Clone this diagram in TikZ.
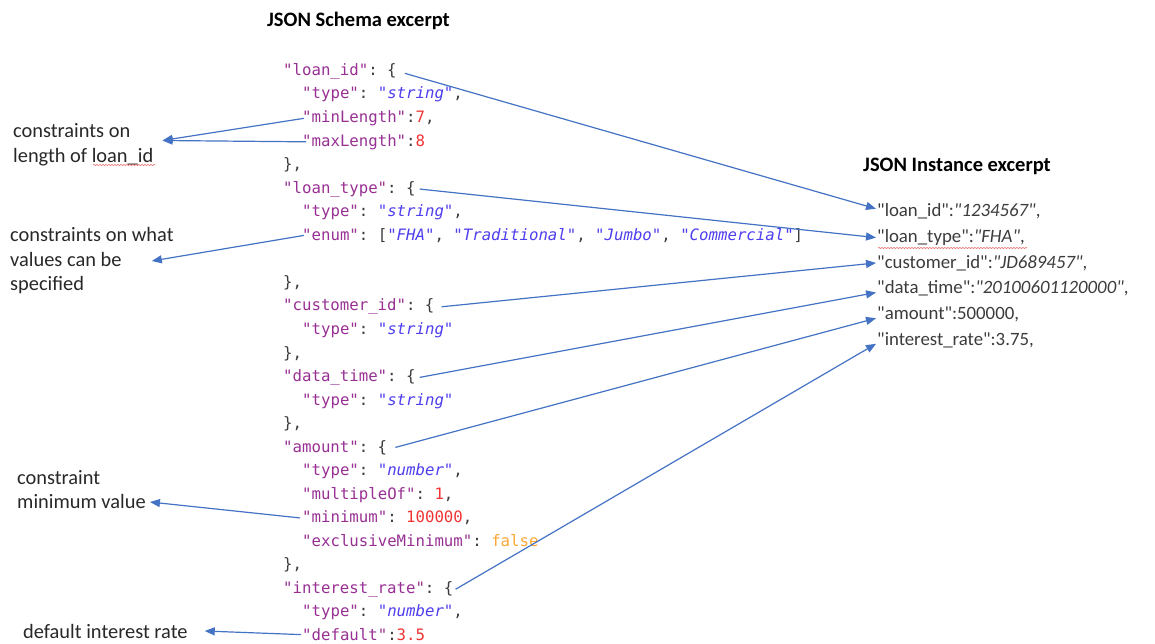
\documentclass[tikz,border=0pt]{standalone}
\usepackage{fontspec}
\setmainfont{Carlito}
\newfontfamily\instfont{Carlito}
\setmonofont{DejaVu Sans Mono}
\usetikzlibrary{arrows.meta,decorations.pathmorphing}
\definecolor{keyc}{RGB}{152,48,148}
\definecolor{strc}{RGB}{78,62,238}
\definecolor{numc}{RGB}{240,52,52}
\definecolor{boolc}{RGB}{252,166,52}
\definecolor{punc}{RGB}{60,60,60}
\definecolor{instc}{RGB}{60,60,60}
\definecolor{labc}{RGB}{40,40,40}
\definecolor{arrc}{RGB}{68,114,196}
\definecolor{sqc}{RGB}{236,110,110}
\newcommand{\jk}[1]{\textcolor{keyc}{"#1"}}
\newcommand{\js}[1]{\textcolor{strc}{\itshape"#1"}}
\newcommand{\jn}[1]{\textcolor{numc}{#1}}
\newcommand{\jb}[1]{\textcolor{boolc}{#1}}
\tikzset{
  code/.style={anchor=base west, inner sep=0pt, font=\ttfamily\fontsize{15.7}{18}\selectfont, text=punc},
  inst/.style={anchor=base west, inner sep=1pt, font=\instfont\fontsize{18.8}{22}\selectfont, text=instc},
  lab/.style={anchor=west, align=left, inner sep=0pt, font=\fontsize{20.4}{24.5}\selectfont, text=labc},
  ttl/.style={anchor=base west, inner sep=0pt, font=\bfseries\fontsize{20.5}{24}\selectfont, text=black},
  conn/.style={draw=arrc, line width=1.2pt, -{Triangle[length=10pt,width=8pt]}},
  squig/.style={draw=sqc, line width=0.6pt, decorate, decoration={snake, amplitude=0.6pt, segment length=3pt}}
}
\begin{document}
\begin{tikzpicture}[x=1pt,y=-1pt]
\useasboundingbox[fill=white] (0,0) rectangle (1155,644);
% titles
\node[ttl] (tS) at (267,26.5) {JSON Schema excerpt};
\node[ttl] (tI) at (863,171.5) {JSON Instance excerpt};
% schema code
\node[code] (c0) at (283,75.5) {\jk{loan\_id}: \{};
\node[code] (c1) at (302,99.0) {\jk{type}: \js{string},};
\node[code] (c2) at (302,122.6) {\jk{minLength}:\jn{7},};
\node[code] (c3) at (302,146.1) {\jk{maxLength}:\jn{8}};
\node[code] (c4) at (283,169.7) {\},};
\node[code] (c5) at (283,193.2) {\jk{loan\_type}: \{};
\node[code] (c6) at (302,216.7) {\jk{type}: \js{string},};
\node[code] (c7) at (302,240.3) {\jk{enum}: [\js{FHA}, \js{Traditional}, \js{Jumbo}, \js{Commercial}]};
\node[code] (c9) at (283,287.4) {\},};
\node[code] (c10) at (283,310.9) {\jk{customer\_id}: \{};
\node[code] (c11) at (302,334.4) {\jk{type}: \js{string}};
\node[code] (c12) at (283,358.0) {\},};
\node[code] (c13) at (283,381.5) {\jk{data\_time}: \{};
\node[code] (c14) at (302,405.1) {\jk{type}: \js{string}};
\node[code] (c15) at (283,428.6) {\},};
\node[code] (c16) at (283,452.1) {\jk{amount}: \{};
\node[code] (c17) at (302,475.7) {\jk{type}: \js{number},};
\node[code] (c18) at (302,499.2) {\jk{multipleOf}: \jn{1},};
\node[code] (c19) at (302,522.8) {\jk{minimum}: \jn{100000},};
\node[code] (c20) at (302,546.3) {\jk{exclusiveMinimum}: \jb{false}};
\node[code] (c21) at (283,569.8) {\},};
\node[code] (c22) at (283,593.4) {\jk{interest\_rate}: \{};
\node[code] (c23) at (302,616.9) {\jk{type}: \js{number},};
\node[code] (c24) at (302,640.5) {\jk{default}:\jn{3.5}};
% instance
\node[inst] (i1) at (876,217) {"loan\_id":\textit{"1234567"},};
\node[inst] (i2) at (876,242.6) {"loan\_type":\textit{"FHA"},};
\node[inst] (i3) at (876,268.2) {"customer\_id":\textit{"JD689457"},};
\node[inst] (i4) at (876,293.8) {"data\_time":\textit{"20100601120000"},};
\node[inst] (i5) at (876,319.4) {"amount":500000,};
\node[inst] (i6) at (876,345) {"interest\_rate":3.75,};
% left labels
\node[lab] (L1) at (13,144.5) {constraints on\\length of loan\_id};
\node[lab] (L2) at (10,261) {constraints on what\\values can be\\specified};
\node[lab] (L3) at (17,489.5) {constraint\\minimum value};
\node[lab] (L4) at (23,631) {default interest rate};
% spell-check squiggles
\draw[squig] (93,165) -- (155,165);
\draw[squig] (878,248) -- (1027,248);
% connectors schema -> instance
\draw[conn] ([xshift=8pt,yshift=-2pt]c0.east) -- ([yshift=3pt]i1.west);
\draw[conn] ([xshift=4pt]c5.east) -- (i2.west);
\draw[conn] ([xshift=7pt]c10.east) -- (i3.west);
\draw[conn] ([xshift=4pt]c13.east) -- ([yshift=-4pt]i4.west);
\draw[conn] ([xshift=8pt]c16.east) -- ([yshift=-4pt]i5.west);
\draw[conn] ([xshift=2pt]c22.east) -- ([yshift=-4pt]i6.west);
% connectors schema -> labels
\draw[conn] ([xshift=2pt]c2.west) -- ([xshift=9pt,yshift=4pt]L1.east);
\draw[conn] ([xshift=4pt]c3.west) -- ([xshift=9pt,yshift=4pt]L1.east);
\draw[conn] ([xshift=2pt]c7.west) -- ([xshift=-22pt]L2.east);
\draw[conn] ([xshift=-2pt]c19.west) -- ([xshift=4pt,yshift=-12.5pt]L3.east);
\draw[conn] ([xshift=-1pt]c24.west) -- ([xshift=17pt]L4.east);
\end{tikzpicture}
\end{document}
